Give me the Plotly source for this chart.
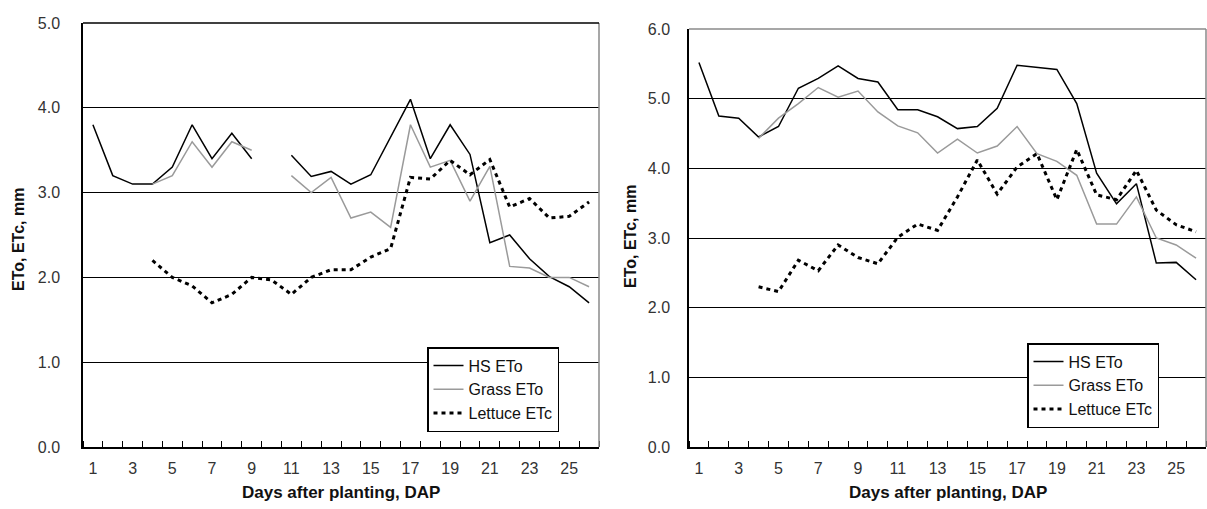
import plotly.graph_objects as go

days = list(range(1, 27))

# Left panel
hs_left = [3.8, 3.2, 3.1, 3.1, 3.3, 3.8, 3.4, 3.7, 3.4, None, 3.44, 3.19, 3.25, 3.1, 3.21, 3.65,
           4.1, 3.4, 3.8, 3.45, 2.41, 2.5, 2.22, 2.01, 1.89, 1.7]
grass_left = [None, None, None, 3.1, 3.2, 3.6, 3.3, 3.6, 3.5, None, 3.2, 3.0, 3.18, 2.7, 2.77, 2.59,
              3.8, 3.3, 3.38, 2.9, 3.31, 2.13, 2.11, 2.0, 2.0, 1.89]
lettuce_left = [None, None, None, 2.2, 2.0, 1.9, 1.7, 1.8, 2.0, 1.97, 1.8, 2.0, 2.09, 2.09, 2.24, 2.34,
                3.18, 3.16, 3.38, 3.21, 3.39, 2.83, 2.93, 2.7, 2.72, 2.89]

# Right panel
hs_right = [5.52, 4.75, 4.72, 4.45, 4.6, 5.15, 5.29, 5.47, 5.29, 5.24, 4.84, 4.84, 4.74, 4.57, 4.6, 4.86,
            5.48, 5.45, 5.42, 4.93, 3.93, 3.49, 3.78, 2.64, 2.65, 2.4]
grass_right = [None, None, None, 4.43, 4.72, 4.93, 5.16, 5.02, 5.11, 4.81, 4.61, 4.51, 4.22, 4.42, 4.22, 4.32,
               4.6, 4.21, 4.1, 3.9, 3.2, 3.2, 3.59, 3.0, 2.9, 2.71]
lettuce_right = [None, None, None, 2.3, 2.23, 2.68, 2.53, 2.9, 2.72, 2.63, 3.01, 3.2, 3.11, 3.59, 4.12, 3.63,
                 4.02, 4.21, 3.55, 4.27, 3.62, 3.55, 3.97, 3.4, 3.19, 3.09]

series_names = ["HS ETo", "Grass ETo", "Lettuce ETc"]
x_title = "Days after planting, DAP"
y_title = "ETo, ETc, mm"

FONT = "Liberation Sans, Arial, sans-serif"
W, H = 1207, 509

styles = [
    dict(color="#000000", width=1.5),
    dict(color="#9a9a9a", width=1.5),
    dict(color="#000000", width=3, dash="4px,4px"),
]

fig = go.Figure()

panels = [
    ("x", "y", "legend", [hs_left, grass_left, lettuce_left]),
    ("x2", "y2", "legend2", [hs_right, grass_right, lettuce_right]),
]
for xa, ya, lg, data in panels:
    for name, vals, st in zip(series_names, data, styles):
        fig.add_trace(go.Scatter(
            x=days, y=vals, name=name, mode="lines", line=st,
            xaxis=xa, yaxis=ya, legend=lg, connectgaps=False,
        ))

# domains (pixels -> paper)
lx0, lx1 = 83 / W, 599 / W
rx0, rx1 = 689 / W, 1206 / W
ly0, ly1 = 1 - 447 / H, 1 - 23 / H
ry0, ry1 = 1 - 447 / H, 1 - 29 / H

xcommon = dict(
    range=[0.5, 26.5], tickmode="linear", tick0=1, dtick=2, ticks="", showgrid=False,
    zeroline=False, showline=True, linecolor="#000000", linewidth=1.5,
    tickfont=dict(family=FONT, size=16, color="#333333"), ticklabelstandoff=6,
    minor=dict(ticks="inside", tickmode="linear", tick0=0.5, dtick=1, ticklen=6,
               tickcolor="#000000", tickwidth=1, showgrid=False),
    automargin=False, fixedrange=True,
)
ycommon = dict(
    tickmode="linear", tick0=0, dtick=1, tickformat=".1f", ticks="", showgrid=True,
    gridcolor="#000000", gridwidth=1, zeroline=False, showline=True, linecolor="#000000",
    linewidth=1.5, tickfont=dict(family=FONT, size=16, color="#333333"),
    automargin=False, fixedrange=True,
)

legend_common = dict(xanchor="left", yanchor="top", bordercolor="#000000", borderwidth=1.5,
                     bgcolor="white", font=dict(family=FONT, size=16, color="#111111"),
                     tracegroupgap=0, itemwidth=30, entrywidth=100, entrywidthmode="pixels")

fig.update_layout(
    width=W, height=H,
    margin=dict(l=0, r=0, t=0, b=0),
    paper_bgcolor="white", plot_bgcolor="white",
    showlegend=True,
    xaxis=dict(domain=[lx0, lx1], anchor="y", **xcommon),
    yaxis=dict(domain=[ly0, ly1], anchor="x", range=[0, 5], ticklabelstandoff=18, **ycommon),
    xaxis2=dict(domain=[rx0, rx1], anchor="y2", **xcommon),
    yaxis2=dict(domain=[ry0, ry1], anchor="x2", range=[0, 6], ticklabelstandoff=14, **ycommon),
    legend=dict(x=427 / W, y=1 - 347 / H, **legend_common),
    legend2=dict(x=1027 / W, y=1 - 343 / H, **legend_common),
)

# plot-area borders: right edge (gray) and top edge
for xr, yr, topcol in [("x domain", "y domain", "#000000"), ("x2 domain", "y2 domain", "#8a8a8a")]:
    fig.add_shape(type="line", xref=xr, yref=yr, x0=1, x1=1, y0=0, y1=1,
                  line=dict(color="#8a8a8a", width=1.5), layer="above")
    fig.add_shape(type="line", xref=xr, yref=yr, x0=0, x1=1, y0=1, y1=1,
                  line=dict(color=topcol, width=1.5), layer="above")

annos = [
    dict(text=f"<b>{y_title}</b>", x=18 / W, y=1 - 240 / H, textangle=-90, size=16),
    dict(text=f"<b>{y_title}</b>", x=630 / W, y=1 - 237 / H, textangle=-90, size=16),
    dict(text=f"<b>{x_title}</b>", x=(lx0 + lx1) / 2, y=1 - 492 / H, textangle=0, size=17),
    dict(text=f"<b>{x_title}</b>", x=(rx0 + rx1) / 2, y=1 - 492 / H, textangle=0, size=17),
]
for a in annos:
    size = a.pop("size")
    fig.add_annotation(xref="paper", yref="paper", showarrow=False, xanchor="center",
                       yanchor="middle", font=dict(family=FONT, size=size, color="#111111"), **a)

# remove the default 8px page margin so the figure sits at the window origin
fig.write_html("out.html", config={"displayModeBar": False},
               post_script="document.body.style.margin='0';document.body.style.overflow='hidden';")
